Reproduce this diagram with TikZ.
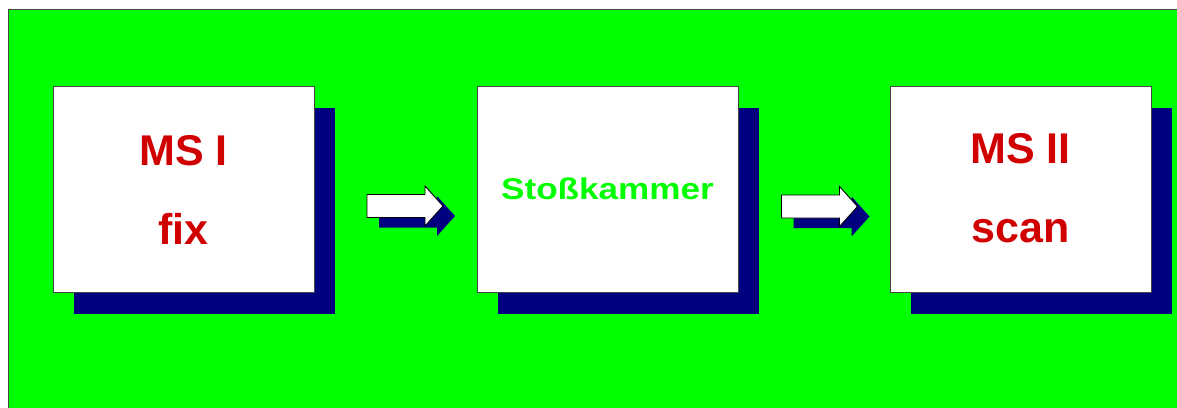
\documentclass[tikz,border=0pt]{standalone}
\usepackage{fontspec}
\setmainfont{Liberation Sans}
\usetikzlibrary{shadows}
\definecolor{bg}{RGB}{0,255,0}
\definecolor{navyshadow}{RGB}{0,0,128}
\definecolor{labelred}{RGB}{208,0,0}
\definecolor{edge}{RGB}{70,70,70}
\tikzset{
  panel/.style={draw=edge, line width=0.9pt, fill=white,
    minimum width=261pt, minimum height=206pt, inner sep=0pt,
    drop shadow={shadow xshift=21pt, shadow yshift=-22pt, fill=navyshadow, opacity=1}},
  bigtxt/.style={text=labelred, font=\fontsize{43}{50}\selectfont\bfseries, inner sep=0pt, anchor=base},
  midtxt/.style={text=bg, font=\fontsize{30}{36}\selectfont\bfseries, inner sep=0pt, anchor=base},
  blockarrow/.pic={
    \fill[navyshadow] (-26,-1.5) -- (32,-1.5) -- (32,-10) -- (50,10) -- (32,30) -- (32,21.5) -- (-26,21.5) -- cycle;
    \draw[black, line width=0.9pt, fill=white]
      (-38,-11.5) -- (20,-11.5) -- (20,-20) -- (38,0) -- (20,20) -- (20,11.5) -- (-38,11.5) -- cycle;
  }
}
\begin{document}
\begin{tikzpicture}[x=1pt, y=-1pt]
  \useasboundingbox (0,0) rectangle (1177,407);
  \clip (0,0) rectangle (1177,407);
  % page background and green panel
  \fill[white] (0,0) rectangle (1177,407);
  \draw[draw=edge, line width=1.6pt, fill=bg] (8.5,9.5) rectangle (1195,425);

  % the three stages
  \node[panel] (b1) at (183.5,189) {};
  \node[panel] (b2) at (607.5,189) {};
  \node[panel] (b3) at (1020.5,189) {};

  % labels
  \node[bigtxt] (t1a) at (b1.center |- 0,165) {MS I};
  \node[bigtxt] (t1b) at (b1.center |- 0,244) {fix};
  \node[midtxt] (t2)  at (b2.center |- 0,199) {\scalebox{1.17}[1]{Stoßkammer}};
  \node[bigtxt] (t3a) at (b3.center |- 0,163) {MS II};
  \node[bigtxt] (t3b) at (b3.center |- 0,242) {scan};

  % block arrows between stages
  \coordinate (a1) at (405,206);
  \coordinate (a2) at (819.5,206.5);
  \pic at (a1) {blockarrow};
  \pic at (a2) {blockarrow};
\end{tikzpicture}
\end{document}
